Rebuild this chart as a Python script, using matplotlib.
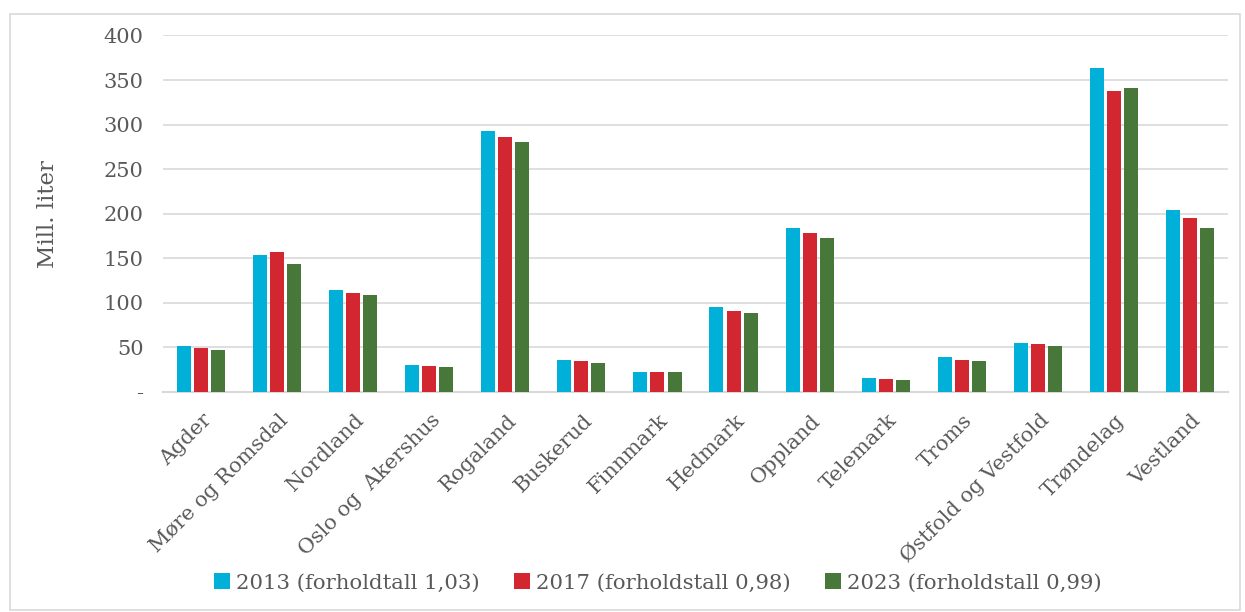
import numpy as np
import matplotlib.pyplot as plt
import matplotlib.transforms as mtransforms
from matplotlib.patches import Rectangle

fylker = ['Agder', 'Møre og Romsdal', 'Nordland', 'Oslo og  Akershus', 'Rogaland',
          'Buskerud', 'Finnmark', 'Hedmark', 'Oppland', 'Telemark', 'Troms',
          'Østfold og Vestfold', 'Trøndelag', 'Vestland']
v2013 = [52, 154, 115, 30, 293, 36, 22.5, 95.5, 184, 15.7, 39.5, 55, 363, 204.5]
v2017 = [49.5, 157, 111, 29, 286.5, 35, 22.5, 91, 178.5, 14.6, 36, 54, 338, 195.5]
v2023 = [47, 144, 109, 28, 280, 32.5, 22.5, 89, 173, 13.5, 35, 51.5, 341.5, 184]
serier = ['2013 (forholdtall 1,03)', '2017 (forholdstall 0,98)', '2023 (forholdstall 0,99)']
farger = ['#00B0D8', '#D22630', '#48773A']

tekst = '#595959'
plt.rcParams['font.family'] = ['DejaVu Serif']

fig = plt.figure(figsize=(12.45, 6.12), dpi=100)
fig.patches.append(Rectangle((10/1245, 2/612), 1230/1245, 596/612, transform=fig.transFigure,
                             fill=False, edgecolor='#D9D9D9', linewidth=1.2))
ax = fig.add_axes([163/1245, 1-392/612, 1065/1245, 356.5/612])

x = np.arange(len(fylker))
b = 0.184
steg = 0.224
for i, (verdier, navn) in enumerate(zip([v2013, v2017, v2023], serier)):
    ax.bar(x + (i-1)*steg, verdier, width=b, color=farger[i], label=navn, zorder=3)

ax.set_xlim(-0.5, len(fylker)-0.5)
ax.set_ylim(0, 400)
ax.set_yticks(range(0, 401, 50))
ax.set_yticklabels(['-'] + [str(v) for v in range(50, 401, 50)])
ax.grid(axis='y', color='#D9D9D9', linewidth=1.2, zorder=0)
for s in ['top', 'right', 'left']:
    ax.spines[s].set_visible(False)
ax.spines['bottom'].set_color('#D9D9D9')
ax.spines['bottom'].set_linewidth(1.5)
ax.tick_params(axis='both', length=0, colors=tekst, labelsize=15)
ax.tick_params(axis='y', pad=14)
ax.set_xticks(x)
ax.set_xticklabels(fylker, rotation=45, ha='right', va='center', rotation_mode='anchor')
ax.tick_params(axis='x', pad=14)
# flytt etikettene litt til hoyre og ned
forskyv = mtransforms.ScaledTranslation(8/100, -6/100, fig.dpi_scale_trans)
for lab in ax.get_xticklabels():
    lab.set_transform(lab.get_transform() + forskyv)
ax.set_ylabel('Mill. liter', fontsize=16.5, color=tekst, labelpad=32)

fig.legend(loc='center', bbox_to_anchor=(658/1245, 1-583/612), ncol=3, frameon=False,
           fontsize=15.3, labelcolor=tekst, handlelength=0.75, handleheight=0.75,
           handletextpad=0.3, columnspacing=1.6)

fig.savefig('out.png', dpi=100)
